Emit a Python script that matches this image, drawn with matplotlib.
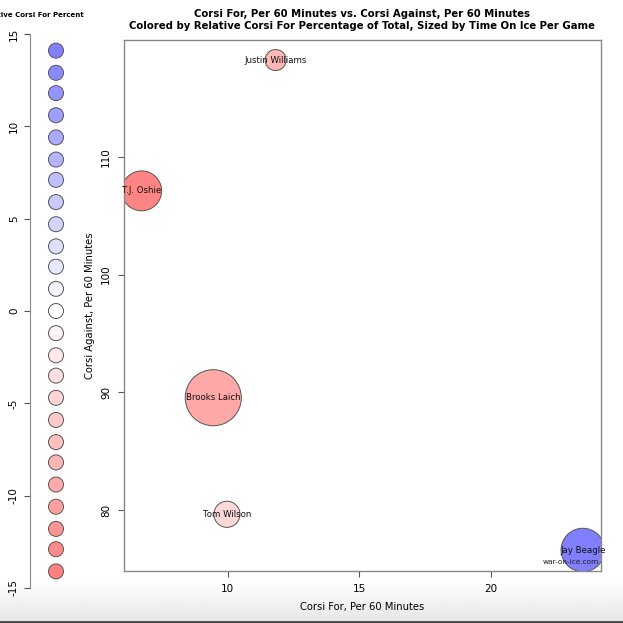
import numpy as np
import matplotlib
matplotlib.use("Agg")
import matplotlib.pyplot as plt

plt.rcParams["axes.unicode_minus"] = False

# players: Corsi For/60, Corsi Against/60, relative CF%, TOI per game
players = ["Justin Williams", "T.J. Oshie", "Brooks Laich", "Tom Wilson", "Jay Beagle"]
cf60 = [11.82, 6.73, 9.45, 9.97, 23.49]
ca60 = [118.2, 107.1, 89.55, 79.66, 76.63]
rel_cf = [-7.8, -13.5, -9.6, -4.3, 14.0]
toi = [7.0, 13.3, 18.7, 8.7, 14.5]

legend_vals = [14.1, 12.9, 11.8, 10.6, 9.4, 8.2, 7.1, 5.9, 4.7, 3.5, 2.4, 1.2, 0.0,
               -1.2, -2.4, -3.5, -4.7, -5.9, -7.1, -8.2, -9.4, -10.6, -11.8, -12.9, -14.1]
legend_ticks = [-15, -10, -5, 0, 5, 10, 15]

W = H = 623
DPI = 100


def rel_color(v, vmax=14.1):
    a = 0.5 * min(abs(v) / vmax, 1.0)
    if v >= 0:
        return (1 - a, 1 - a, 1.0)
    return (1.0, 1 - a, 1 - a)


def px_box(x0, y0, x1, y1):
    # pixel box (top-left origin) -> figure fraction rect
    return [x0 / W, 1 - y1 / H, (x1 - x0) / W, (y1 - y0) / H]


fig = plt.figure(figsize=(W / DPI, H / DPI), dpi=DPI)
fig.patch.set_facecolor("white")

# bottom grey gradient strip (screenshot frame)
bg = fig.add_axes(px_box(0, 580, 623, 623), zorder=-5)
grad = np.linspace(1.0, 0.90, 100).reshape(-1, 1)
bg.imshow(grad, cmap="gray", vmin=0, vmax=1, aspect="auto", extent=[0, 1, 0, 1])
bg.axhline(0.02, color="#444444", lw=2)
bg.set_axis_off()

# ---- main bubble plot ----
ax = fig.add_axes(px_box(123.5, 40, 601, 571))
ax.set_xlim(6.04, 24.18)
ax.set_ylim(74.85, 119.9)

r_px = [1.5 * t for t in toi]
sizes = [(2 * r * 72 / DPI) ** 2 for r in r_px]
cols = [rel_color(v) for v in rel_cf]
ax.scatter(cf60, ca60, s=sizes, c=cols, edgecolors="#555555", linewidths=0.7, zorder=2)
for name, x, y in zip(players, cf60, ca60):
    ax.text(x, y, name, ha="center", va="center", fontsize=6.2, color="#111111", zorder=3)

ax.text(0.995, 0.012, "war-on-ice.com", transform=ax.transAxes, ha="right", va="bottom",
        fontsize=5.3, color="#222222", zorder=4)

ax.set_xticks([10, 15, 20])
ax.set_yticks([80, 90, 100, 110])
ax.tick_params(labelsize=7.5, length=4, color="#555555", pad=5)
for lab in ax.get_yticklabels():
    lab.set_rotation(90)
    lab.set_va("center")
for sp in ax.spines.values():
    sp.set_color("#888888")
    sp.set_linewidth(1.0)
ax.set_xlabel("Corsi For, Per 60 Minutes", fontsize=7.2, labelpad=6)
ax.set_ylabel("Corsi Against, Per 60 Minutes", fontsize=7.2, labelpad=4)

fig.text(362 / W, 1 - 14 / H, "Corsi For, Per 60 Minutes vs. Corsi Against, Per 60 Minutes",
         ha="center", va="center", fontsize=7.3, fontweight="bold")
fig.text(362 / W, 1 - 26 / H,
         "Colored by Relative Corsi For Percentage of Total, Sized by Time On Ice Per Game",
         ha="center", va="center", fontsize=7.3, fontweight="bold")

# ---- colour legend strip ----
lg = fig.add_axes(px_box(30, 34, 85, 588))
lg.set_xlim(0, 1)
lg.set_ylim(-15, 15)
lg.scatter([26 / 55] * len(legend_vals), legend_vals, s=(15 * 72 / DPI) ** 2,
           c=[rel_color(v) for v in legend_vals], edgecolors="#555555", linewidths=0.7,
           clip_on=False)
lg.set_xticks([])
lg.set_yticks(legend_ticks)
lg.tick_params(labelsize=7.5, length=4, color="#555555", pad=4)
for lab in lg.get_yticklabels():
    lab.set_rotation(90)
    lab.set_va("center")
for k in ["top", "right", "bottom"]:
    lg.spines[k].set_visible(False)
lg.spines["left"].set_color("#888888")
lg.patch.set_alpha(0)

fig.text(84 / W, 1 - 15 / H, "Relative Corsi For Percent", ha="right", va="center",
         fontsize=5.0, fontweight="bold")

fig.savefig("out.png", dpi=DPI)
